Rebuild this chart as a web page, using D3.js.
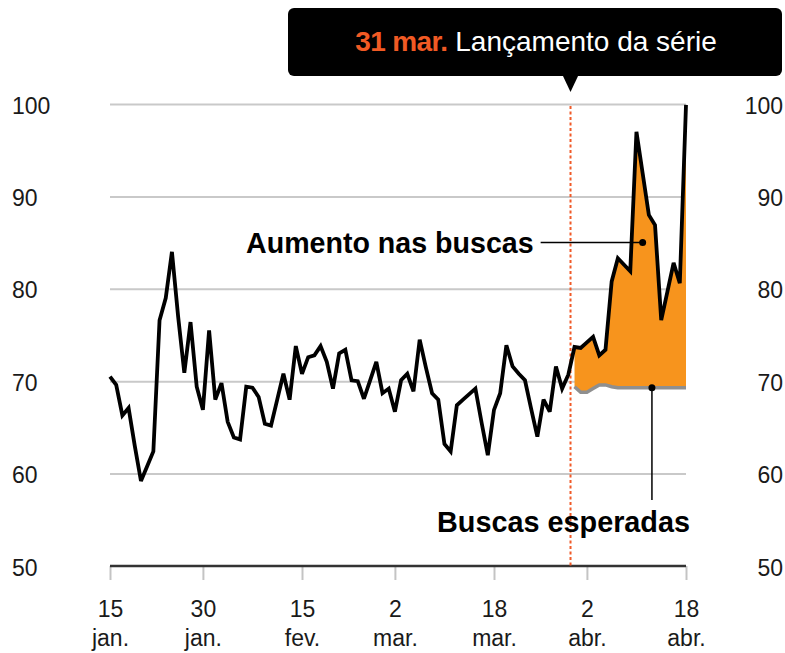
<!DOCTYPE html>
<html>
<head>
<meta charset="utf-8">
<script src="https://cdn.jsdelivr.net/npm/d3@7"></script>
<style>
  html, body { margin: 0; padding: 0; background: #fff; }
  svg { display: block; font-family: "Liberation Sans", Arial, sans-serif; }
</style>
</head>
<body>
<svg id="chart" width="785" height="653"></svg>
<script>
// ---------- DATA ----------
const startDate = "2025-01-15";          // first daily value
const launchDate = "2025-03-31";         // series launch
const endDate = "2025-04-18";

// daily search index, 15 jan – 30 mar
const buscasAntes = [
  70.5, 69.6, 66.3, 67.1, 63.0, 59.2, 60.8, 62.4, 76.6, 79.0,
  84.0, 77.0, 70.9, 76.4, 69.4, 66.9, 75.5, 68.0, 69.8, 65.6,
  63.9, 63.7, 69.4, 69.3, 68.3, 65.4, 65.2, 68.0, 70.8, 68.0,
  73.8, 70.8, 72.6, 72.8, 73.8, 72.1, 69.2, 73.0, 73.4, 70.1,
  70.0, 68.1, 70.1, 72.1, 68.7, 69.2, 66.7, 70.1, 70.8, 68.9,
  74.5, 71.5, 68.7, 68.0, 63.2, 62.4, 67.4, 68.0, 68.6, 69.2,
  65.5, 62.0, 66.9, 68.7, 73.9, 71.6, 70.8, 70.1, 67.0, 64.0,
  68.0, 66.7, 71.6, 69.2, 70.7
];
// daily search index, 31 mar – 18 abr
const buscasDepois = [
  73.7, 73.6, 74.2, 74.8, 72.8, 73.4, 80.8, 83.3, 82.6, 81.9,
  97.0, 92.5, 88.0, 86.9, 76.6, 79.7, 82.8, 80.6, 99.9
];
// expected searches, 31 mar – 18 abr
const buscasEsperadas = [
  69.4, 68.8, 68.8, 69.2, 69.6, 69.6, 69.4, 69.3, 69.3, 69.3,
  69.3, 69.3, 69.3, 69.3, 69.3, 69.3, 69.3, 69.3, 69.3
];

const yTicks = [50, 60, 70, 80, 90, 100];
const xTickDates = ["2025-01-15", "2025-01-30", "2025-02-15", "2025-03-02", "2025-03-18", "2025-04-02", "2025-04-18"];
const xTickDays = ["15", "30", "15", "2", "18", "2", "18"];
const xTickMonths = ["jan.", "jan.", "fev.", "mar.", "mar.", "abr.", "abr."];

const calloutDate = "31 mar.";
const calloutText = " Lançamento da série";
const labelAumento = "Aumento nas buscas";
const labelEsperadas = "Buscas esperadas";
const aumentoPoint = { date: "2025-04-11", value: 85 };
const esperadasPoint = { date: "2025-04-12T12:00", value: 69.3 };

// ---------- SETUP ----------
const parse = d3.timeParse("%Y-%m-%d");
const parseT = d3.timeParse("%Y-%m-%dT%H:%M");
const t0 = parse(startDate);
const tLaunch = parse(launchDate);

const svg = d3.select("#chart");
const x = d3.scaleTime().domain([t0, parse(endDate)]).range([110, 686]);
const y = d3.scaleLinear().domain([50, 100]).range([566, 104]);

const allValues = buscasAntes.concat(buscasDepois);
const series = allValues.map((v, i) => ({ date: d3.timeDay.offset(t0, i), v }));
const after = buscasDepois.map((v, i) => ({ date: d3.timeDay.offset(tLaunch, i), v, e: buscasEsperadas[i] }));

const axisFont = 23;
const ink = "#1a1a1a";

// ---------- GRID ----------
const grid = svg.append("g").attr("transform", `translate(${x.range()[0]},0)`)
  .call(d3.axisRight(y).tickValues(yTicks.filter(t => t > 50)).tickSize(x.range()[1] - x.range()[0]).tickFormat(""));
grid.select(".domain").remove();
grid.selectAll("line").attr("stroke", "#c9c9c9").attr("stroke-width", 2);

// ---------- Y LABELS (left + right) ----------
const yl = svg.append("g").attr("transform", "translate(0,0)")
  .call(d3.axisLeft(y).tickValues(yTicks).tickSize(0));
yl.select(".domain").remove();
yl.selectAll("text").attr("x", 12).attr("dy", null).attr("y", 9)
  .attr("text-anchor", "start").attr("font-size", axisFont)
  .attr("font-family", "Liberation Sans, Arial, sans-serif").attr("fill", ink);

const yr = svg.append("g").attr("transform", "translate(783,0)")
  .call(d3.axisLeft(y).tickValues(yTicks).tickSize(0));
yr.select(".domain").remove();
yr.selectAll("text").attr("x", 0).attr("dy", null).attr("y", 9)
  .attr("text-anchor", "end").attr("font-size", axisFont)
  .attr("font-family", "Liberation Sans, Arial, sans-serif").attr("fill", ink);

// ---------- X AXIS ----------
const xa = svg.append("g").attr("transform", `translate(0,${y(50)})`)
  .call(d3.axisBottom(x).tickValues(xTickDates.map(parse)).tickSize(14).tickFormat(""));
xa.select(".domain").remove();
xa.selectAll(".tick line").attr("stroke", "#c4c4c4").attr("stroke-width", 2);
xa.selectAll(".tick").each(function (d, i) {
  const t = d3.select(this).append("text").attr("fill", ink).attr("text-anchor", "middle")
    .attr("font-size", axisFont).attr("font-family", "Liberation Sans, Arial, sans-serif");
  t.append("tspan").attr("x", 0).attr("y", 51).text(xTickDays[i]);
  t.append("tspan").attr("x", 0).attr("y", 80).text(xTickMonths[i]);
});
svg.append("line").attr("x1", x.range()[0]).attr("x2", x.range()[1])
  .attr("y1", y(50)).attr("y2", y(50)).attr("stroke", "#333").attr("stroke-width", 2.5);

// ---------- AREA (aumento) ----------
svg.append("path").datum(after)
  .attr("fill", "#f7941d")
  .attr("d", d3.area().x(d => x(d.date)).y0(d => y(d.e)).y1(d => y(d.v)));

// expected line
svg.append("path").datum(after)
  .attr("fill", "none").attr("stroke", "#8f8f8f").attr("stroke-width", 3.5)
  .attr("d", d3.line().x(d => x(d.date)).y(d => y(d.e)));

// ---------- LAUNCH LINE ----------
svg.append("line")
  .attr("x1", x(tLaunch) - 4).attr("x2", x(tLaunch) - 4)
  .attr("y1", y(100) + 2).attr("y2", y(50))
  .attr("stroke", "#f05a28").attr("stroke-width", 2).attr("stroke-dasharray", "3,2.5");

// ---------- MAIN LINE ----------
svg.append("path").datum(series)
  .attr("fill", "none").attr("stroke", "#000").attr("stroke-width", 3.8)
  .attr("stroke-linejoin", "miter").attr("stroke-miterlimit", 3)
  .attr("d", d3.line().x(d => x(d.date)).y(d => y(d.v)));

// ---------- ANNOTATIONS ----------
const ax = x(parse(aumentoPoint.date)), ay = y(aumentoPoint.value);
svg.append("line").attr("x1", ax - 102).attr("x2", ax).attr("y1", ay).attr("y2", ay)
  .attr("stroke", "#000").attr("stroke-width", 1.5);
svg.append("circle").attr("cx", ax).attr("cy", ay).attr("r", 3.5).attr("fill", "#000");
svg.append("text").attr("x", ax - 109).attr("y", ay + 10)
  .attr("text-anchor", "end").attr("font-weight", "bold").attr("font-size", 28.6).attr("fill", "#000")
  .text(labelAumento);

const ex = x(parseT(esperadasPoint.date)), ey = y(esperadasPoint.value);
svg.append("line").attr("x1", ex).attr("x2", ex).attr("y1", ey).attr("y2", 500)
  .attr("stroke", "#000").attr("stroke-width", 1.5);
svg.append("circle").attr("cx", ex).attr("cy", ey).attr("r", 3.5).attr("fill", "#000");
svg.append("text").attr("x", 690).attr("y", 532)
  .attr("text-anchor", "end").attr("font-weight", "bold").attr("font-size", 28.8).attr("fill", "#000")
  .text(labelEsperadas);

// ---------- CALLOUT ----------
const cx = x(tLaunch) - 4;
const callout = svg.append("g");
callout.append("rect").attr("x", 288).attr("y", 8).attr("width", 494).attr("height", 68)
  .attr("rx", 6).attr("fill", "#000");
callout.append("path")
  .attr("d", `M${cx - 8},75 L${cx + 8},75 L${cx},92 Z`).attr("fill", "#000");
const ct = callout.append("text").attr("x", 536).attr("y", 51).attr("text-anchor", "middle")
  .attr("font-size", 28);
ct.append("tspan").attr("font-weight", "bold").attr("fill", "#f15a24").attr("letter-spacing", -0.6).text(calloutDate);
ct.append("tspan").attr("fill", "#fff").text(calloutText);
</script>
</body>
</html>
